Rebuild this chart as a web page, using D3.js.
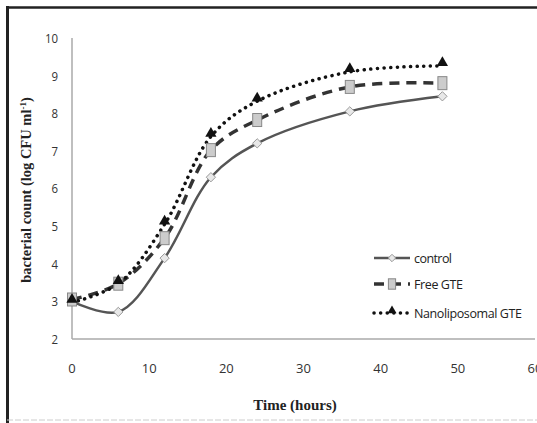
<!DOCTYPE html>
<html lang="en">
<head>
<meta charset="UTF-8">
<title>Bacterial count over time</title>
<script src="https://d3js.org/d3.v7.min.js"></script>
<style>
  body { margin: 0; background: #fff; }
  svg { display: block; }
</style>
</head>
<body>
<script>
// data
const hours = [0, 6, 12, 18, 24, 36, 48];
const control = [3.0, 2.72, 4.15, 6.3, 7.2, 8.05, 8.45];
const freeGTE = [3.05, 3.47, 4.68, 7.02, 7.82, 8.7, 8.8];
const nanoGTE = [2.97, 3.47, 5.05, 7.38, 8.32, 9.1, 9.26];
const seriesNames = ['control', 'Free GTE', 'Nanoliposomal GTE'];
const xTicks = [0, 10, 20, 30, 40, 50, 60];
const yTicks = [2, 3, 4, 5, 6, 7, 8, 9, 10];

const width = 537, height = 423;

const svg = d3.select('body').append('svg')
    .attr('width', width)
    .attr('height', height);

// frame around the figure
svg.append('line').attr('x1', 7).attr('x2', width).attr('y1', 7.5).attr('y2', 7.5)
    .attr('stroke', '#222').attr('stroke-width', 2.5);
svg.append('line').attr('x1', 7.5).attr('x2', 7.5).attr('y1', 6).attr('y2', height)
    .attr('stroke', '#222').attr('stroke-width', 3);
svg.append('line').attr('x1', 7).attr('x2', width).attr('y1', 420).attr('y2', 420)
    .attr('stroke', '#ccc').attr('stroke-width', 1).attr('stroke-dasharray', '6,2');

const x = d3.scaleLinear().domain([0, 60]).range([72, 535]);
const y = d3.scaleLinear().domain([2, 10]).range([339, 38]);

// axes
svg.append('line').attr('x1', x(0)).attr('x2', x(0)).attr('y1', y(10)).attr('y2', y(2))
    .attr('stroke', '#aaa').attr('stroke-width', 1.5);
svg.append('line').attr('x1', x(0)).attr('x2', x(60)).attr('y1', y(2)).attr('y2', y(2))
    .attr('stroke', '#aaa').attr('stroke-width', 1.5);

svg.selectAll('.ytick').data(yTicks).enter().append('text')
    .attr('x', 58)
    .attr('y', d => y(d) + 5)
    .attr('text-anchor', 'end')
    .style('font-family', 'Open Sans, sans-serif')
    .style('font-size', '13px')
    .attr('fill', '#333')
    .attr('transform', d => `scale(0.88,1) translate(${58 / 0.88 - 58},0)`)
    .text(d => d);

svg.selectAll('.xtick').data(xTicks).enter().append('text')
    .attr('x', d => x(d))
    .attr('y', 373)
    .attr('text-anchor', 'middle')
    .style('font-family', 'Open Sans, sans-serif')
    .style('font-size', '13px')
    .attr('fill', '#333')
    .text(d => d);

// axis titles
svg.append('text')
    .attr('x', 295).attr('y', 410)
    .attr('text-anchor', 'middle')
    .style('font-family', 'Liberation Serif, serif')
    .style('font-weight', 'bold')
    .style('font-size', '15px')
    .attr('fill', '#222')
    .text('Time (hours)');

const yTitle = svg.append('text')
    .attr('transform', 'translate(31,190) rotate(-90)')
    .attr('text-anchor', 'middle')
    .style('font-family', 'Liberation Serif, serif')
    .style('font-weight', 'bold')
    .style('font-size', '14.5px')
    .attr('fill', '#222');
yTitle.append('tspan').text('bacterial count (log CFU ml');
yTitle.append('tspan').attr('dy', -5).style('font-size', '9px').text('-1');
yTitle.append('tspan').attr('dy', 5).text(')');

// series
const series = [
    { name: seriesNames[0], values: control, stroke: '#555', width: 2.5, dash: null, cap: 'butt', marker: 'diamond' },
    { name: seriesNames[1], values: freeGTE, stroke: '#333', width: 3.5, dash: '10,7', cap: 'butt', marker: 'square' },
    { name: seriesNames[2], values: nanoGTE, stroke: '#111', width: 3.5, dash: '0.1,6.5', cap: 'round', marker: 'triangle' }
];

const line = d3.line()
    .x((d, i) => x(hours[i]))
    .y(d => y(d))
    .curve(d3.curveCatmullRom.alpha(0.5));

function drawMarker(g, type, cx, cy, k) {
    if (type === 'diamond') {
        g.append('path')
            .attr('d', d3.symbol().type(d3.symbolDiamond2).size(55 * k * k)())
            .attr('transform', `translate(${cx},${cy})`)
            .attr('fill', '#e8e8e8').attr('stroke', '#999').attr('stroke-width', 1);
    } else if (type === 'square') {
        g.append('rect')
            .attr('x', cx - 4.5 * k).attr('y', cy - 6.5 * k).attr('width', 9 * k).attr('height', 13 * k)
            .attr('fill', '#ccc').attr('stroke', '#888').attr('stroke-width', 1);
    } else {
        g.append('path')
            .attr('d', d3.symbol().type(d3.symbolTriangle).size(55 * k * k)())
            .attr('transform', `translate(${cx},${cy - 3 * k})`)
            .attr('fill', '#111');
    }
}

series.forEach(s => {
    svg.append('path')
        .datum(s.values)
        .attr('d', line)
        .attr('fill', 'none')
        .attr('stroke', s.stroke)
        .attr('stroke-width', s.width)
        .attr('stroke-dasharray', s.dash)
        .attr('stroke-linecap', s.cap);
});

series.forEach(s => {
    const g = svg.append('g');
    s.values.forEach((v, i) => drawMarker(g, s.marker, x(hours[i]), y(v), 1));
});

// legend
const legendY = [258, 284, 313];
series.forEach((s, i) => {
    const ly = legendY[i];
    const g = svg.append('g');
    g.append('line')
        .attr('x1', 374).attr('x2', 410).attr('y1', ly).attr('y2', ly)
        .attr('stroke', s.stroke)
        .attr('stroke-width', s.width)
        .attr('stroke-dasharray', s.dash)
        .attr('stroke-linecap', s.cap);
    drawMarker(g, s.marker, 392, ly, 0.8);
    g.append('text')
        .attr('x', 414).attr('y', ly + 5)
        .style('font-family', 'Open Sans, sans-serif')
        .style('font-size', '12.5px')
        .attr('fill', '#222')
        .attr('textLength', s.name === 'control' ? 38 : (s.name === 'Free GTE' ? 49 : 108))
        .text(s.name);
});
</script>
</body>
</html>
